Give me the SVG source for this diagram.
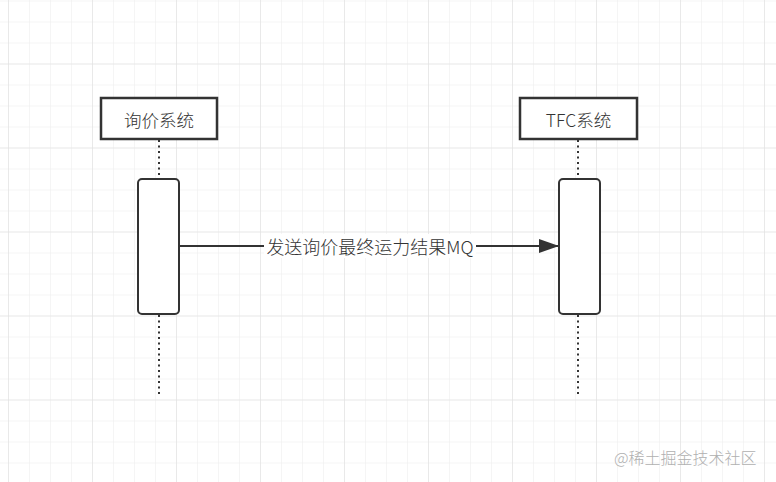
<svg xmlns="http://www.w3.org/2000/svg" width="776" height="482" viewBox="0 0 776 482">
<defs>
<pattern id="minor" x="8" y="0.5" width="21" height="21" patternUnits="userSpaceOnUse">
<path d="M0 0H21M0 0V21" fill="none" stroke="#ebebeb" stroke-width="1"/>
</pattern>
<pattern id="major" x="8" y="-20.5" width="84" height="84" patternUnits="userSpaceOnUse">
<path d="M0 0H84M0 0V84" fill="none" stroke="#dedede" stroke-width="1"/>
</pattern>
<marker id="arrow" viewBox="0 0 20 14" refX="20" refY="7" markerWidth="20" markerHeight="14" markerUnits="userSpaceOnUse" orient="auto">
<path d="M0 0L20 7L0 14Z" fill="#333"/>
</marker>
</defs>
<style>
.box{fill:#fff;stroke:#333;stroke-width:2.5}
.act{fill:#fff;stroke:#333;stroke-width:2}
.life{stroke:#333;stroke-width:2;stroke-dasharray:2 3.5;fill:none}
.t{font-family:"Noto Sans CJK SC","Liberation Sans",sans-serif;font-size:17.5px;font-weight:300;fill:#333;text-anchor:middle;dominant-baseline:central}
.msg{stroke:#333;stroke-width:2;fill:none}
.wm{font-family:"Noto Sans CJK SC","Liberation Sans",sans-serif;font-size:16px;font-weight:300;fill:#b0b0b0}
</style>
<rect width="776" height="482" fill="#fff"/>
<rect width="776" height="482" fill="url(#minor)"/>
<rect width="776" height="482" fill="url(#major)"/>
<g id="connectors">
<line class="life" x1="159" y1="140" x2="159" y2="179"/>
<line class="life" x1="159" y1="315" x2="159" y2="396"/>
<line class="life" x1="578" y1="140" x2="578" y2="179"/>
<line class="life" x1="578" y1="315" x2="578" y2="396"/>
<line class="msg" x1="179" y1="246" x2="559" y2="246" marker-end="url(#arrow)"/>
<rect x="264" y="234" width="212" height="24" fill="#fff"/>
<text class="t" x="370" y="246" style="font-size:18px">发送询价最终运力结果MQ</text>
</g>
<g id="node-xunjia">
<rect class="box" x="101" y="98" width="116" height="41"/>
<text class="t" x="159" y="119">询价系统</text>
</g>
<g id="node-tfc">
<rect class="box" x="520" y="98" width="117" height="41"/>
<text class="t" x="578.5" y="119">TFC系统</text>
</g>
<g id="act-xunjia">
<rect class="act" x="138" y="179" width="41" height="135" rx="4"/>
</g>
<g id="act-tfc">
<rect class="act" x="559" y="179" width="41" height="135" rx="4"/>
</g>
<text class="wm" x="614" y="464">@稀土掘金技术社区</text>
</svg>
